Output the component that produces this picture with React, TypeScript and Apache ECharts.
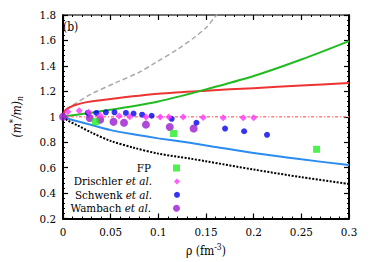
import React, { useEffect, useRef } from "react";
import * as echarts from "echarts";

const FONT = "'DejaVu Serif Condensed', 'DejaVu Serif', serif";

// Curves (rho in fm^-3, (m*/m)_n)
const grayX = [0, 0.004, 0.012, 0.03, 0.056, 0.08, 0.097, 0.12, 0.138, 0.15, 0.16, 0.17];
const grayY = [1.0, 1.06, 1.1, 1.18, 1.27, 1.35, 1.425, 1.53, 1.625, 1.7, 1.79, 1.89];

const redX = [0, 0.001, 0.003, 0.006, 0.012, 0.025, 0.05, 0.1, 0.15, 0.2, 0.25, 0.3];
const redY = [1.0, 1.035, 1.055, 1.07, 1.09, 1.115, 1.14, 1.18, 1.205, 1.225, 1.245, 1.265];

const greenX = [0, 0.05, 0.1, 0.15, 0.2, 0.25, 0.3];
const greenY = [1.0, 1.055, 1.12, 1.215, 1.32, 1.45, 1.595];

const blueX = [0, 0.01, 0.025, 0.05, 0.075, 0.1, 0.133, 0.158, 0.2, 0.25, 0.3];
const blueY = [1.0, 0.975, 0.945, 0.895, 0.86, 0.83, 0.795, 0.765, 0.715, 0.665, 0.62];

const blackX = [0, 0.005, 0.015, 0.03, 0.05, 0.075, 0.1, 0.134, 0.15, 0.2, 0.25, 0.3];
const blackY = [1.0, 0.97, 0.933, 0.875, 0.81, 0.755, 0.71, 0.67, 0.65, 0.585, 0.525, 0.472];

const pinkX = [0, 0.3];
const pinkY = [1.0, 1.0];

// Data points
const fpX = [0.034, 0.116, 0.266];
const fpY = [0.961, 0.868, 0.744];

const drischlerX = [0.005, 0.017, 0.027, 0.039, 0.059, 0.07, 0.087, 0.102, 0.111, 0.126, 0.147, 0.168, 0.189, 0.2];
const drischlerY = [1.04, 1.047, 1.036, 1.01, 1.005, 1.0, 0.998, 0.998, 0.998, 0.998, 0.995, 0.993, 0.993, 0.993];

const schwenkX = [0.026, 0.035, 0.045, 0.054, 0.066, 0.074, 0.083, 0.093, 0.114, 0.14, 0.17, 0.19, 0.214];
const schwenkY = [1.03, 1.03, 1.035, 1.035, 1.03, 1.025, 1.016, 1.008, 0.984, 0.953, 0.907, 0.886, 0.858];

const wambachX = [0, 0.028, 0.039, 0.053, 0.064, 0.087, 0.112, 0.137];
const wambachY = [1.0, 0.99, 0.977, 0.96, 0.953, 0.938, 0.92, 0.907];

const legendNames = ["FP", "Drischler et al.", "Schwenk et al.", "Wambach et al."];
const legendIconSizes = [7, 6, 6, 7];

const zip = (xs: number[], ys: number[]) => xs.map((x, i) => [x, ys[i]]);

export default function App() {
  const ref = useRef<HTMLDivElement>(null);
  useEffect(() => {
    if (!ref.current) return;
    const chart = echarts.init(ref.current, null, { renderer: "svg" });
    const axisCommon = {
      type: "value" as const,
      axisLine: { show: true, onZero: false, lineStyle: { color: "#000", width: 2 } },
      axisTick: { show: true, inside: true, length: 5, lineStyle: { color: "#000", width: 1.2 } },
      minorTick: { show: true, splitNumber: 5, length: 2, lineStyle: { color: "#000", width: 1 } },
      splitLine: { show: false },
    };
    const xBase = { ...axisCommon, min: 0, max: 0.3, interval: 0.05 };
    const yBase = { ...axisCommon, min: 0.2, max: 1.8, interval: 0.2 };
    const legends = legendNames.map((n, i) => ({
      data: [n],
      orient: "vertical",
      align: "right",
      right: 374 - 180,
      top: 162 + i * 13.4,
      itemWidth: legendIconSizes[i],
      itemHeight: legendIconSizes[i],
      padding: 0,
      selectedMode: false,
      textStyle: {
        fontFamily: FONT,
        fontSize: 11.5,
        lineHeight: 12,
        color: "#000",
        padding: [0, 17, 0, 0],
        rich: { i: { fontFamily: FONT, fontSize: 11.5, lineHeight: 12, fontStyle: "italic", color: "#000" } },
      },
      formatter: (name: string) => name.replace(" et al.", " {i|et al.}"),
    }));
    const line = (name: string, xs: number[], ys: number[], color: string, width: number, type: any) => ({
      name,
      type: "line",
      data: zip(xs, ys),
      showSymbol: false,
      smooth: 0.3,
      lineStyle: { color, width, type },
      z: 2,
    });
    chart.setOption({
      animation: false,
      grid: { left: 55, right: 25, top: 15, bottom: 41 },
      legend: legends,
      xAxis: [
        {
          ...xBase,
          position: "bottom",
          name: "ρ (fm{sup|-3})",
          nameLocation: "middle",
          nameGap: 24,
          nameTextStyle: {
            fontFamily: FONT,
            fontSize: 12,
            color: "#000",
            rich: { sup: { fontFamily: FONT, fontSize: 8.5, color: "#000", verticalAlign: "top", padding: [0, 0, 8, 0] } },
          },
          axisLabel: { margin: 7, fontFamily: FONT, fontSize: 11.5, color: "#000" },
        },
        {
          ...xBase,
          position: "top",
          axisLabel: { show: false },
          axisLine: { show: true, onZero: false, lineStyle: { color: "#444", width: 1.5 } },
        },
      ],
      yAxis: [
        {
          ...yBase,
          position: "left",
          name: "{p|(m}{sup|*}{p|/m)}{sub|n}",
          nameLocation: "middle",
          nameGap: 38,
          nameRotate: 90,
          nameTextStyle: {
            rich: {
              p: { fontFamily: FONT, fontSize: 12, fontStyle: "italic", color: "#000" },
              sup: { fontFamily: FONT, fontSize: 8.5, color: "#000", padding: [0, 0, 8, 0] },
              sub: { fontFamily: FONT, fontSize: 8.5, fontStyle: "italic", color: "#000", padding: [6, 0, 0, 0] },
            },
          },
          axisLabel: { margin: 7, fontFamily: FONT, fontSize: 11.5, color: "#000" },
        },
        {
          ...yBase,
          position: "right",
          axisLabel: { show: false },
        },
      ],
      graphic: [
        {
          type: "text",
          left: 63,
          top: 21,
          style: { text: "(b)", fontFamily: FONT, fontSize: 12, fill: "#000" },
        },
      ],
      series: [
        line("gray", grayX, grayY, "#aaaaaa", 1.5, [5, 3]),
        line("red", redX, redY, "#ee3333", 2, "solid"),
        line("green", greenX, greenY, "#22bb22", 2, "solid"),
        line("blue", blueX, blueY, "#2a8cf0", 2, "solid"),
        line("black", blackX, blackY, "#000000", 2, [2, 1.5]),
        line("pink", pinkX, pinkY, "#ff8080", 1.5, [3, 2, 1, 2]),
        {
          name: "FP",
          type: "scatter",
          data: zip(fpX, fpY),
          symbol: "rect",
          symbolSize: 7,
          itemStyle: { color: "#22ee22" },
          z: 4,
        },
        {
          name: "Drischler et al.",
          type: "scatter",
          data: zip(drischlerX, drischlerY),
          symbol: "diamond",
          symbolSize: 7,
          itemStyle: { color: "#ff33ff" },
          z: 5,
        },
        {
          name: "Schwenk et al.",
          type: "scatter",
          data: zip(schwenkX, schwenkY),
          symbol: "circle",
          symbolSize: 6,
          itemStyle: { color: "#0000ee" },
          z: 4,
        },
        {
          name: "Wambach et al.",
          type: "scatter",
          data: zip(wambachX, wambachY),
          symbol: "circle",
          symbolSize: 8,
          itemStyle: { color: "#9a1ad0" },
          z: 3,
        },
      ],
    });
    return () => chart.dispose();
  }, []);
  return <div ref={ref} style={{ position: "absolute", left: 0, top: 0, width: 374, height: 262 }} />;
}
